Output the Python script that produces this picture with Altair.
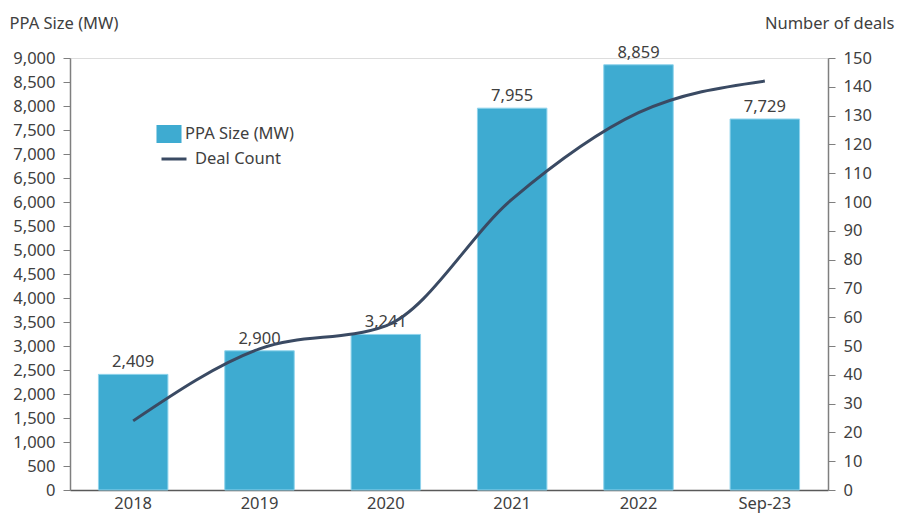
import altair as alt
import pandas as pd

years = ["2018", "2019", "2020", "2021", "2022", "Sep-23"]
ppa_size = [2409, 2900, 3241, 7955, 8859, 7729]
deal_count = [24, 49, 57, 101, 131, 142]
left_ticks = list(range(0, 9001, 500))
right_ticks = list(range(0, 151, 10))

df = pd.DataFrame({"year": years, "ppa": ppa_size, "deals": deal_count})

FONT = "Noto Sans"
TXT = "#404040"
BAR = "#3EABD1"
LINE = "#3A4A63"
FS = 16.5

x = alt.X("year:N", sort=years, title=None,
          scale=alt.Scale(paddingInner=0.45, paddingOuter=0.225),
          axis=alt.Axis(labelAngle=0, ticks=False, domainColor="#595959", domainWidth=1.5,
                        labelFontSize=FS, labelColor=TXT, labelFont=FONT, labelPadding=5))

yl = alt.Y("ppa:Q", title="PPA Size (MW)",
           scale=alt.Scale(domain=[0, 9000]),
           axis=alt.Axis(values=left_ticks, format=",.0f", grid=False, labelOverlap=False,
                         tickSize=7, tickColor="#7f7f7f", domainColor="#7f7f7f", domainWidth=1.5,
                         labelFontSize=FS, labelColor=TXT, labelFont=FONT, labelPadding=8,
                         titleAngle=0, titleAlign="left", titleBaseline="bottom",
                         titleX=-61, titleY=-27, titleFontSize=FS, titleFontWeight="normal",
                         titleColor=TXT, titleFont=FONT))

bars = alt.Chart(df).mark_bar(stroke="#8fd3ec", strokeWidth=1).encode(
    x=x, y=yl,
    color=alt.Color("s:N", scale=alt.Scale(domain=["PPA Size (MW)"], range=[BAR]),
                    legend=alt.Legend(title=None, orient="none", legendX=90, legendY=67,
                                      symbolType="M-1.39,-1H1.39V1H-1.39Z", symbolSize=324,
                                      symbolStrokeWidth=0, labelFontSize=FS, labelColor=TXT,
                                      labelFont=FONT, labelOffset=7))
).transform_calculate(s="'PPA Size (MW)'")

labels = alt.Chart(df).mark_text(baseline="bottom", dy=-4, fontSize=FS, color=TXT, font=FONT).encode(
    x=alt.X("year:N", sort=years),
    y=alt.Y("ppa:Q", axis=alt.Axis(values=left_ticks, format=",.0f")),
    text=alt.Text("ppa:Q", format=",")
)

yr = alt.Y("deals:Q", title="Number of deals",
           scale=alt.Scale(domain=[0, 150]),
           axis=alt.Axis(orient="right", values=right_ticks, format="d", grid=False, labelOverlap=False,
                         tickSize=7, tickColor="#7f7f7f", domainColor="#7f7f7f", domainWidth=1.5,
                         labelFontSize=FS, labelColor=TXT, labelFont=FONT, labelPadding=8,
                         titleAngle=0, titleAlign="right", titleBaseline="bottom",
                         titleX=66, titleY=-27, titleFontSize=FS, titleFontWeight="normal",
                         titleColor=TXT, titleFont=FONT))

line = alt.Chart(df).mark_line(interpolate="monotone", strokeWidth=3).encode(
    x=alt.X("year:N", sort=years), y=yr,
    stroke=alt.Stroke("t:N", scale=alt.Scale(domain=["Deal Count"], range=[LINE]),
                      legend=alt.Legend(title=None, orient="none", legendX=90, legendY=87,
                                        symbolType="stroke", symbolSize=625, symbolStrokeWidth=3,
                                        labelFontSize=FS, labelColor=TXT, labelFont=FONT,
                                        labelOffset=7))
).transform_calculate(t="'Deal Count'")

chart = alt.layer(bars + labels, line).resolve_scale(y="independent", color="independent").properties(
    width=758, height=432,
    autosize=alt.AutoSizeParams(type="none"),
    padding={"left": 62, "top": 50, "right": 67, "bottom": 30},
).configure_view(stroke=None).configure(font=FONT)

chart.save("out.html", embed_options={"renderer": "svg", "actions": False})
